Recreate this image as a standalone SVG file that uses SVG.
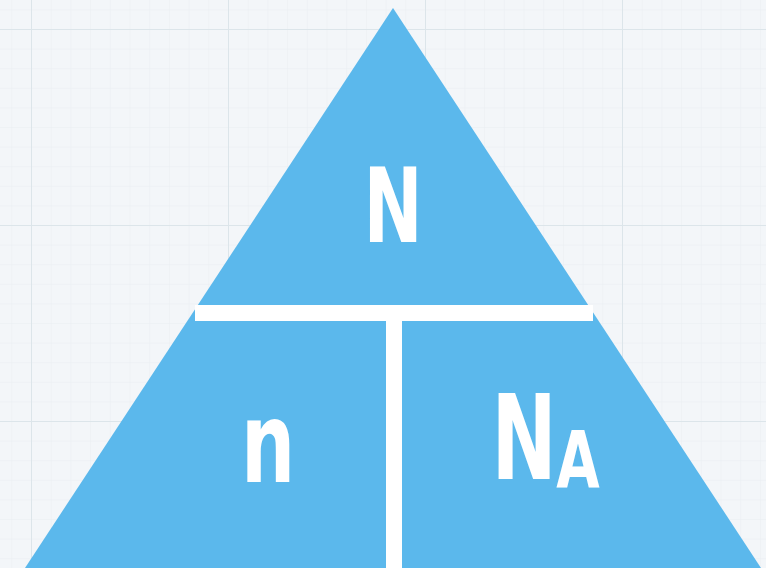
<svg xmlns="http://www.w3.org/2000/svg" width="766" height="568" viewBox="0 0 766 568">
<defs>
<pattern id="minor" x="31" y="29" width="19.7" height="19.6" patternUnits="userSpaceOnUse">
<path d="M0 0V19.6M0 0H19.7" fill="none" stroke="#e9eef2" stroke-width="1"/>
</pattern>
<pattern id="major" x="31" y="29" width="197" height="196" patternUnits="userSpaceOnUse">
<path d="M0 0V196M0 0H197" fill="none" stroke="#dce5ea" stroke-width="2"/>
</pattern>
</defs>
<style>
.lbl{font-family:"DejaVu Sans","Liberation Sans",sans-serif;font-weight:bold;fill:#ffffff;text-anchor:middle}
</style>
<rect width="766" height="568" fill="#f3f6f9"/>
<rect width="766" height="568" fill="url(#minor)"/>
<rect width="766" height="568" fill="url(#major)"/>
<g id="triangle">
<polygon points="393,8 761,568 25,568" fill="#5bb8ec"/>
</g>
<g id="connectors">
<rect x="195" y="305" width="398" height="16" fill="#ffffff"/>
<rect x="386" y="321" width="16" height="247" fill="#ffffff"/>
</g>
<g id="node-N">
<text class="lbl" transform="translate(393,242) scale(0.68,1)" font-size="104">N</text>
</g>
<g id="node-n">
<text class="lbl" transform="translate(268,482) scale(0.68,1)" font-size="112">n</text>
</g>
<g id="node-NA">
<text class="lbl" transform="translate(524,479) scale(0.66,1)" font-size="118">N</text>
<text class="lbl" transform="translate(578,487) scale(0.72,1)" font-size="78">A</text>
</g>
</svg>
